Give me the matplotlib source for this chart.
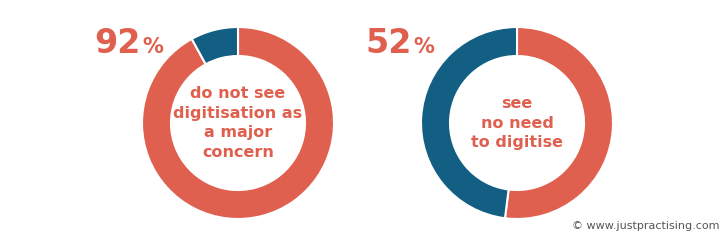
import matplotlib.pyplot as plt

# values
left_shares = [92, 8]
right_shares = [52, 48]
left_pct = "92"
right_pct = "52"
left_label = "do not see\ndigitisation as\na major\nconcern"
right_label = "see\nno need\nto digitise"
credit = "\u00a9 www.justpractising.com"

red = "#E0604F"
blue = "#135E83"

W, H = 725, 242
fig = plt.figure(figsize=(W / 100, H / 100), dpi=100)
ax = fig.add_axes([0, 0, 1, 1])


def donut(shares, cx, cy, label, pct, px, py):
    ax.pie(shares, colors=[red, blue], startangle=90, counterclock=False,
           center=(cx, H - cy), radius=96, frame=True,
           wedgeprops=dict(width=29, edgecolor="white", linewidth=1.5))
    ax.text(cx, H - cy, label, ha="center", va="center", color=red,
            fontsize=11.5, fontweight="bold", linespacing=1.4)
    ax.text(px, H - py, pct, ha="left", va="baseline", color=red,
            fontsize=24, fontweight="bold")
    ax.text(px + 48, H - py, "%", ha="left", va="baseline", color=red,
            fontsize=15, fontweight="bold")


donut(left_shares, 238, 123, left_label, left_pct, 94, 53)
donut(right_shares, 517, 123, right_label, right_pct, 365, 53)

ax.set_xlim(0, W)
ax.set_ylim(0, H)
ax.set_aspect("equal")
ax.axis("off")

ax.text(720, H - 226, credit, ha="right", va="center", color="#555555",
        fontsize=8)

fig.savefig("out.png", dpi=100)
